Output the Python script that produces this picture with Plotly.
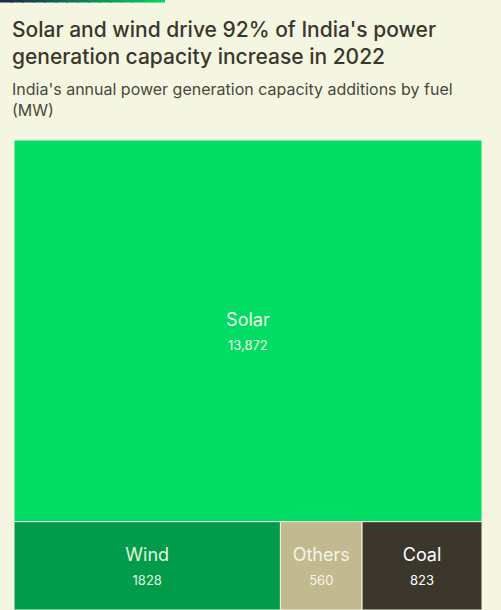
import plotly.graph_objects as go

W, H = 501, 610

# data
fuels = ["Solar", "Wind", "Others", "Coal"]
capacity_mw = [13872, 1828, 560, 823]
capacity_text = ["13,872", "1828", "560", "823"]
fuel_colors = ["#00dc64", "#009b4b", "#c3b991", "#3c372d"]

title_lines = ["Solar and wind drive 92% of India's power",
               "generation capacity increase in 2022"]
subtitle_lines = ["India's annual power generation capacity additions by fuel",
                  "(MW)"]

BG = "#f5f6e1"
FONT = "Inter"

# note: plot area must be a bit taller than wide, otherwise squarify puts Solar in a column
fig = go.Figure(go.Treemap(
    labels=fuels,
    parents=[""] * len(fuels),
    values=capacity_mw,
    text=capacity_text,
    sort=False,
    branchvalues="total",
    texttemplate="%{label}<br><span style='font-size:13px'>%{text}</span>",
    textposition="middle center",
    textfont=dict(family=FONT, size=18, color=["#f5f6e1", "#e6f5dc", "#f5f6e1", "#ffffff"]),
    marker=dict(colors=fuel_colors, line=dict(color=BG, width=1),
                pad=dict(t=0, l=0, r=0, b=0)),
    tiling=dict(packing="squarify", pad=0),
    pathbar=dict(visible=False),
    root=dict(color=BG),
    hoverinfo="label+value",
    domain=dict(x=[14 / W, 482 / W], y=[0, 1 - 140 / H]),
))

# small gradient bar at the top-left (segments overlap so no gaps show)
n = 15
c0, c1 = (30, 42, 74), (0, 210, 100)
for i in range(n):
    t = i / (n - 1)
    col = "rgb({},{},{})".format(*[int(a + (b - a) * t) for a, b in zip(c0, c1)])
    x0 = 165 * i / n
    x1 = min(165 * (i + 1) / n + 2, 165)
    fig.add_shape(type="rect", xref="paper", yref="paper",
                  x0=x0 / W, x1=x1 / W,
                  y0=1 - 2.5 / H, y1=1, line=dict(width=0), fillcolor=col)

fig.add_annotation(text="<br>".join(title_lines), xref="paper", yref="paper",
                   x=10 / W, y=1 - 15 / H, xanchor="left", yanchor="top", align="left",
                   showarrow=False,
                   font=dict(family=FONT, size=21, color="#3a372c", weight=500))
fig.add_annotation(text="<br>".join(subtitle_lines), xref="paper", yref="paper",
                   x=10 / W, y=1 - 77 / H, xanchor="left", yanchor="top", align="left",
                   showarrow=False, font=dict(family=FONT, size=16, color="#4a473c"))

fig.update_layout(width=W, height=H, margin=dict(l=0, r=0, t=0, b=0),
                  paper_bgcolor=BG, plot_bgcolor=BG, showlegend=False,
                  uniformtext=dict(minsize=8))

fig.write_html("out.html", config={"displayModeBar": False},
               post_script="document.body.style.margin='0';")
